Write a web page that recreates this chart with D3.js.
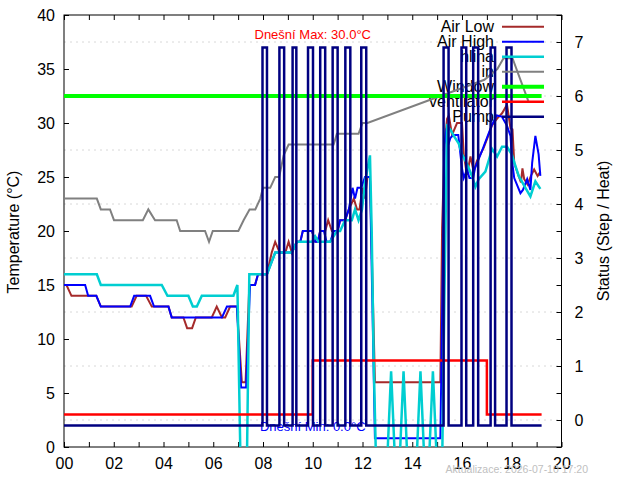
<!DOCTYPE html>
<html>
<head>
<meta charset="utf-8">
<script src="https://cdn.jsdelivr.net/npm/d3@7"></script>
<style>
  body { margin: 0; background: #fff; }
  svg { font-family: "Liberation Sans", Arial, sans-serif; }
  .axis text { font-size: 16px; fill: #000; }
  .axis line { stroke: #000; }
</style>
</head>
<body>
<svg width="640" height="480"></svg>
<script>
// --- data (hours, °C) ---
const airLow = [
  [0,15],[0.1,15],[0.3,14],[1.3,14],[1.48,13],[2.72,13],[2.92,14],[3.3,14],[3.53,13],[4.2,13],[4.33,12],
  [4.8,12],[4.95,11],[5.15,11],[5.3,12],[5.94,12],[6.14,13],[6.35,12],[6.48,12],[6.68,13],[6.95,13],
  [7.15,6],[7.3,6],[7.45,15],[7.68,15],[7.8,16],[8.16,16],[8.35,18],[8.49,19],[8.67,18],[8.9,18],
  [9.03,19],[9.16,18],[9.36,19],[9.5,19],[9.6,20],[9.97,20],[10.1,19],[10.2,19],[10.3,20],[10.5,20],
  [10.62,21],[10.77,20],[11.0,20],[11.1,21],[11.3,21],[11.45,22],[11.65,23],[11.78,22],[11.88,22],
  [12.0,24],[12.1,23],[12.2,25],[12.3,25],[12.5,6],[15.13,6],[15.2,20.3],[15.3,28],[15.4,30.4],
  [15.47,30.7],[15.6,28.9],[15.8,30],[16.0,30],[16.07,27.1],[16.2,25.2],[16.34,26.9],[16.47,25.5],
  [16.6,26.5],[16.74,27.1],[16.87,27.7],[17.07,28.9],[17.21,29.8],[17.41,30.4],[17.61,30.9],[17.81,31.7],
  [17.95,29.5],[18.03,29.4],[18.1,26.3],[18.23,25.4],[18.37,24.5],[18.43,25.8],[18.5,24.8],[18.64,24.3],
  [18.77,25.1],[18.9,25.7],[19.04,25.1],[19.15,25.5]
];
const airHigh = [
  [0,15],[0.85,15],[0.97,14],[1.3,14],[1.48,13],[2.66,13],[2.82,14],[3.46,14],[3.62,13],[4.2,13],[4.33,12],
  [6.35,12],[6.55,13],[6.95,13],[7.12,5.5],[7.32,5.5],[7.48,15],[7.68,15],[7.8,16],[8.16,16],[8.49,18],
  [9.16,18],[9.36,19],[9.5,19],[9.6,20],[9.97,20],[10.1,19],[10.2,19],[10.3,20],[10.45,20],[10.55,19],
  [10.7,19],[10.85,20],[11.0,20],[11.1,21],[11.3,21],[11.45,22],[11.6,24],[11.7,23],[11.8,24],[11.95,24],
  [12.1,25],[12.3,25],[12.5,0.8],[15.13,0.8],[15.3,28],[15.38,29.5],[15.45,28],[15.53,28.6],[15.65,28.9],
  [15.85,28.9],[16.0,25.8],[16.07,24.9],[16.2,25.7],[16.3,24.9],[16.45,24.9],[16.52,25.8],[16.8,27.4],
  [17.0,28.6],[17.2,29.8],[17.4,30.7],[17.6,30.6],[17.8,29.8],[17.95,28.8],[18.02,26.3],[18.1,24.9],
  [18.35,23.5],[18.45,23.8],[18.62,24.8],[18.75,23.8],[18.82,26.3],[18.95,28.8],[19.08,27.1],[19.15,25.1]
];
const hlina = [
  [0,16],[1.32,16],[1.48,15],[3.93,15],[4.16,14],[5.0,14],[5.18,13],[5.34,13],[5.54,14],[6.81,14],
  [6.97,15],[7.1,-2],[7.35,-2],[7.45,16],[8.16,16],[8.49,18],[9.16,18],[9.36,19],[9.97,19],[10.1,19.5],
  [10.23,19],[10.7,19],[10.97,20],[11.1,20],[11.3,21],[11.57,21],[11.7,22],[11.84,21],[11.98,22],
  [12.1,24.5],[12.3,27],[12.37,20],[12.45,8],[12.55,-2],[12.98,-2],[13.15,7],[13.32,-2],[13.48,-2],
  [13.65,7],[13.82,-2],[14.16,-2],[14.33,7],[14.5,-2],[14.66,-2],[14.83,7],[15.0,-2],[15.2,-2],
  [15.3,15],[15.4,29.7],[15.53,29.4],[15.67,28.8],[15.87,28.1],[16.0,27.1],[16.14,26.5],[16.27,25.8],
  [16.4,25.1],[16.54,24.1],[16.67,24.8],[16.94,25.5],[17.07,26.5],[17.21,27.6],[17.41,26.9],[17.61,27.8],
  [17.81,27.8],[18.0,27.1],[18.15,26.0],[18.28,25.1],[18.55,24.0],[18.75,23.2],[18.95,24.6],[19.15,23.9]
];
const inside = [
  [0,23],[1.32,23],[1.48,22],[1.85,22],[2.01,21],[3.17,21],[3.39,22],[3.66,21],[4.53,21],[4.67,20],
  [5.67,20],[5.83,19],[5.98,20],[7.01,20],[7.22,21],[7.46,22],[7.69,22],[7.89,23],[8.0,24],[8.29,24],
  [8.49,25],[8.65,25],[8.83,27],[9.03,28],[10.84,28],[10.97,29],[11.84,29],[12.0,30],[12.2,30],
  [16.9,34],[17.42,35],[17.67,36],[18.03,36],[18.35,34],[18.67,32]
];
const windowLine = [[0,32.5],[19.2,32.5]];
// ventilator: off=3, on=8 (step after)
const ventilator = [[0,3],[10.0,8],[17.0,3],[19.2,3]];
// pump on intervals (hours); off=2, on=37
const pumpOn = [
  [7.98,8.16],[8.66,8.85],[9.19,9.34],[9.81,10.01],[10.30,10.50],[10.80,11.0],[11.31,11.51],[11.95,12.15],
  [15.26,15.46],[15.98,16.17],[16.45,16.65],[17.15,17.33],[17.79,17.99]
];
const pumpEnd = 19.2;

const xTicks = d3.range(0, 21, 1);
const yTicks = d3.range(0, 41, 5);
const y2Ticks = d3.range(0, 8, 1);

const series = [
  { name: 'Air Low', data: airLow, color: '#a52a2a', w: 2 },
  { name: 'Air High', data: airHigh, color: '#0000ff', w: 2 },
  { name: 'hlina', data: hlina, color: '#00ced1', w: 2.5 },
  { name: 'in', data: inside, color: '#808080', w: 2 },
  { name: 'Window', data: windowLine, color: '#00ff00', w: 4 },
  { name: 'ventilator', data: ventilator, color: '#ff0000', w: 2.5, step: true },
  { name: 'Pump', data: null, color: '#000080', w: 2.5, step: true }
];

// build pump step series from intervals
const pump = [[0,2]];
pumpOn.forEach(([a,b]) => { pump.push([a,37]); pump.push([b,2]); });
pump.push([pumpEnd,2]);
series[6].data = pump;

// --- layout ---
const svg = d3.select('svg');
const L = 64, T = 15, R = 561.5, B = 447;

const x = d3.scaleLinear().domain([0, 20]).range([L, R]);
const y = d3.scaleLinear().domain([0, 40]).range([B, T]);
const y2 = d3.scaleLinear().domain([-0.5, 7.5]).range([B, T]);

svg.append('clipPath').attr('id', 'clip')
  .append('rect').attr('x', L).attr('y', T).attr('width', R - L).attr('height', B - T);

// grid
svg.append('g').selectAll('line').data(y2Ticks).enter().append('line')
  .attr('x1', L).attr('x2', R)
  .attr('y1', d => y2(d)).attr('y2', d => y2(d))
  .attr('stroke', '#d8d8d8').attr('stroke-dasharray', '2,4');

// axes
const fmt = d3.format('02d');
svg.append('g').attr('class', 'axis').attr('transform', `translate(0,${B})`)
  .call(d3.axisBottom(x).tickValues(xTicks).tickSize(-5).tickPadding(10.5)
    .tickFormat(d => d % 2 === 0 ? fmt(d) : ''))
  .call(g => g.select('.domain').remove());
svg.append('g').attr('class', 'axis').attr('transform', `translate(0,${T})`)
  .call(d3.axisTop(x).tickValues(xTicks).tickSize(-5).tickFormat(''))
  .call(g => g.select('.domain').remove());
svg.append('g').attr('class', 'axis').attr('transform', `translate(${L},0)`)
  .call(d3.axisLeft(y).tickValues(yTicks).tickSize(-5).tickPadding(9))
  .call(g => g.select('.domain').remove());
svg.append('g').attr('class', 'axis').attr('transform', `translate(${R},0)`)
  .call(d3.axisRight(y).tickValues(yTicks).tickSize(-5).tickFormat(''))
  .call(g => g.select('.domain').remove());
svg.append('g').attr('class', 'axis').attr('transform', `translate(${R},0)`)
  .call(d3.axisRight(y2).tickValues(y2Ticks).tickSize(-5).tickPadding(13))
  .call(g => g.select('.domain').remove());

svg.append('rect').attr('x', L).attr('y', T).attr('width', R - L).attr('height', B - T)
  .attr('fill', 'none').attr('stroke', '#000');

// axis titles
svg.append('text').attr('transform', `translate(13,${(T + B) / 2 + 1}) rotate(-90)`)
  .attr('text-anchor', 'middle').attr('dominant-baseline', 'central')
  .attr('font-size', 16).text('Temperature (°C)');
svg.append('text').attr('transform', `translate(603,${(T + B) / 2}) rotate(-90)`)
  .attr('text-anchor', 'middle').attr('dominant-baseline', 'central')
  .attr('font-size', 16).text('Status (Step / Heat)');

// legend texts (drawn under the lines)
const legY = i => 26.7 + i * 15;
const legend = svg.append('g');
legend.selectAll('text').data(series).enter().append('text')
  .attr('x', 494).attr('y', (d, i) => legY(i))
  .attr('text-anchor', 'end').attr('dominant-baseline', 'central')
  .attr('font-size', 16).text(d => d.name);

// annotations
svg.append('text').attr('x', x(10)).attr('y', 38.5).attr('text-anchor', 'middle')
  .attr('font-size', 13).attr('fill', '#ff0000').text('Dnešní Max: 30.0°C');
svg.append('text').attr('x', x(10)).attr('y', 430.5).attr('text-anchor', 'middle')
  .attr('font-size', 13).attr('fill', '#0000ff').text('Dnešní Min: 0.0°C');

// series
const plot = svg.append('g').attr('clip-path', 'url(#clip)');
series.forEach((s, i) => {
  const line = d3.line().x(d => x(d[0])).y(d => y(d[1]))
    .curve(s.step ? d3.curveStepAfter : d3.curveLinear);
  plot.append('path').datum(s.data)
    .attr('d', line)
    .attr('fill', 'none').attr('stroke', s.color).attr('stroke-width', s.w)
    .attr('stroke-linejoin', 'miter');
  svg.append('line')
    .attr('x1', 502).attr('x2', 544).attr('y1', legY(i)).attr('y2', legY(i))
    .attr('stroke', s.color).attr('stroke-width', s.w);
});

// footer
svg.append('text').attr('x', 588).attr('y', 473).attr('text-anchor', 'end')
  .attr('font-size', 10.5).attr('fill', '#c0c0c0').text('Aktualizace: 2026-07-10 17:20');
</script>
</body>
</html>
